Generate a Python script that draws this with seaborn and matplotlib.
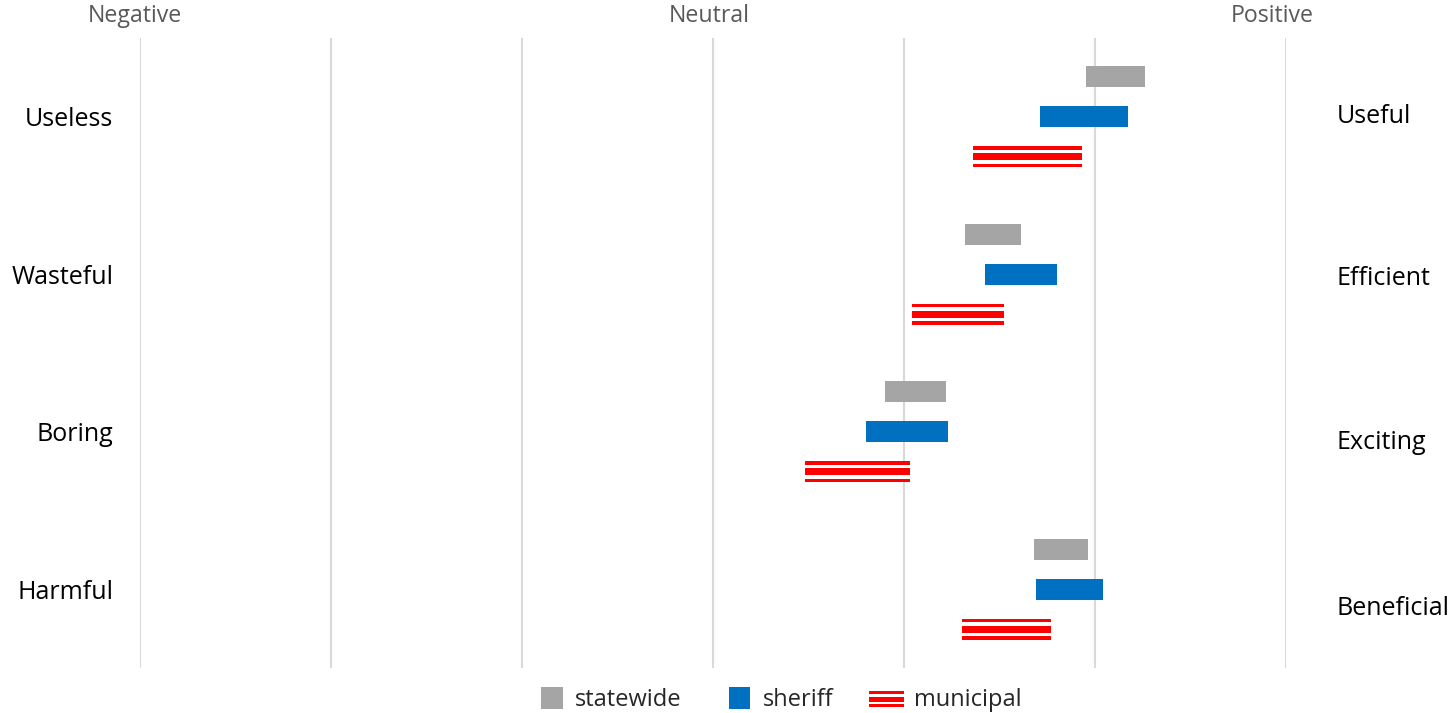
import numpy as np
import pandas as pd
import seaborn as sns
import matplotlib.pyplot as plt
import matplotlib.transforms as mtransforms
from matplotlib.patches import Rectangle
from matplotlib.legend_handler import HandlerBase

# Semantic-differential ratings (1 = negative pole, 7 = positive pole)
neg_labels = ["Useless", "Wasteful", "Boring", "Harmful"]
pos_labels = ["Useful", "Efficient", "Exciting", "Beneficial"]
series = ["statewide", "sheriff", "municipal"]

statewide_lo = [5.95, 5.32, 4.90, 5.68]
statewide_hi = [6.26, 5.61, 5.22, 5.96]
sheriff_lo = [5.71, 5.42, 4.80, 5.69]
sheriff_hi = [6.17, 5.80, 5.23, 6.04]
municipal_lo = [5.36, 5.04, 4.48, 5.30]
municipal_hi = [5.93, 5.52, 5.03, 5.77]

scale_ticks = [1, 2, 3, 4, 5, 6, 7]
anchor_labels = ["Negative", "Neutral", "Positive"]

lows = {"statewide": statewide_lo, "sheriff": sheriff_lo, "municipal": municipal_lo}
highs = {"statewide": statewide_hi, "sheriff": sheriff_hi, "municipal": municipal_hi}
rows = []
for s in series:
    for i, lab in enumerate(neg_labels):
        rows.append({"series": s, "item": lab, "idx": i, "lo": lows[s][i], "hi": highs[s][i]})
df = pd.DataFrame(rows)

colors = {"statewide": "#A5A5A5", "sheriff": "#0070C0", "municipal": "#FF0000"}

sns.set_theme(style="white")
plt.rcParams["font.family"] = ["Open Sans", "DejaVu Sans"]

W, H = 1453, 713
fig = plt.figure(figsize=(W / 100, H / 100), dpi=100)
ax = fig.add_axes([140.3 / W, 45 / H, 1146 / W, 630 / H])

ax.set_xlim(1, 7)
ax.set_ylim(3.5, -0.5)
ax.set_xticks(scale_ticks)
ax.grid(axis="x", color="#D9D9D9", linewidth=1.5, zorder=0)
ax.grid(axis="y", visible=False)
ax.tick_params(axis="x", bottom=False, labelbottom=False)
for sp in ax.spines.values():
    sp.set_visible(False)

bar_h = 0.136
offsets = {"statewide": -0.254, "sheriff": 0.0, "municipal": 0.254}
for s in series:
    sub = df[df["series"] == s]
    y = sub["idx"].to_numpy() + offsets[s]
    width = (sub["hi"] - sub["lo"]).to_numpy()
    ax.barh(y, width, left=sub["lo"], height=bar_h, color=colors[s],
            linewidth=0, zorder=3)
    if s == "municipal":
        # white horizontal stripes across the red bars
        for k in (-1, 1):
            ax.barh(y + k * 0.25 * bar_h, width, left=sub["lo"],
                    height=0.165 * bar_h, color="white", linewidth=0, zorder=4)

# left pole labels
ax.set_yticks(range(len(neg_labels)))
ax.set_yticklabels(neg_labels, fontsize=18, color="black")
ax.tick_params(axis="y", left=False, length=0, pad=19.5)

# right pole labels
right_y = [0.0, 1.03, 2.07, 3.12]
tr_right = mtransforms.blended_transform_factory(ax.transAxes, ax.transData)
for lab, yy in zip(pos_labels, right_y):
    ax.text(1 + 50 / 1146, yy, lab, transform=tr_right, ha="left", va="center",
            fontsize=18, color="black")

# scale anchors along the top
anchor_x = [0.97, 3.98, 6.925]
tr_top = mtransforms.blended_transform_factory(ax.transData, ax.transAxes)
for lab, xx in zip(anchor_labels, anchor_x):
    ax.text(xx, 1 + 16 / 630, lab, transform=tr_top, ha="center", va="baseline",
            fontsize=16.7, color="#595959")


class SquareHandler(HandlerBase):
    def create_artists(self, legend, orig_handle, xdescent, ydescent, width,
                       height, fontsize, trans):
        side = 15.5
        r = Rectangle((width - xdescent - side - 1.5, -ydescent + height / 2 - side / 2),
                      side, side, facecolor=orig_handle.get_facecolor(),
                      edgecolor="none", transform=trans)
        return [r]


class StripeHandler(HandlerBase):
    def create_artists(self, legend, orig_handle, xdescent, ydescent, width,
                       height, fontsize, trans):
        h = 11.0
        y0 = -ydescent + height / 2 - h / 2 - 1
        arts = [Rectangle((-xdescent, y0), width, h, facecolor="#FF0000",
                          edgecolor="none", transform=trans)]
        for frac in (0.25, 0.75):
            arts.append(Rectangle((-xdescent, y0 + h * frac - h * 0.09), width, h * 0.18,
                                  facecolor="white", edgecolor="none", transform=trans))
        return arts


handles = [Rectangle((0, 0), 1, 1, facecolor=colors[s]) for s in series]
handler_map = {handles[0]: SquareHandler(), handles[1]: SquareHandler(),
               handles[2]: StripeHandler()}
fig.legend(handles, series, handler_map=handler_map, loc="center",
           bbox_to_anchor=(0.534, 13 / H), ncol=3, frameon=False,
           fontsize=17, handlelength=1.48, handleheight=0.7,
           handletextpad=0.45, columnspacing=1.5, borderpad=0, borderaxespad=0)

fig.savefig("out.png", dpi=100)
